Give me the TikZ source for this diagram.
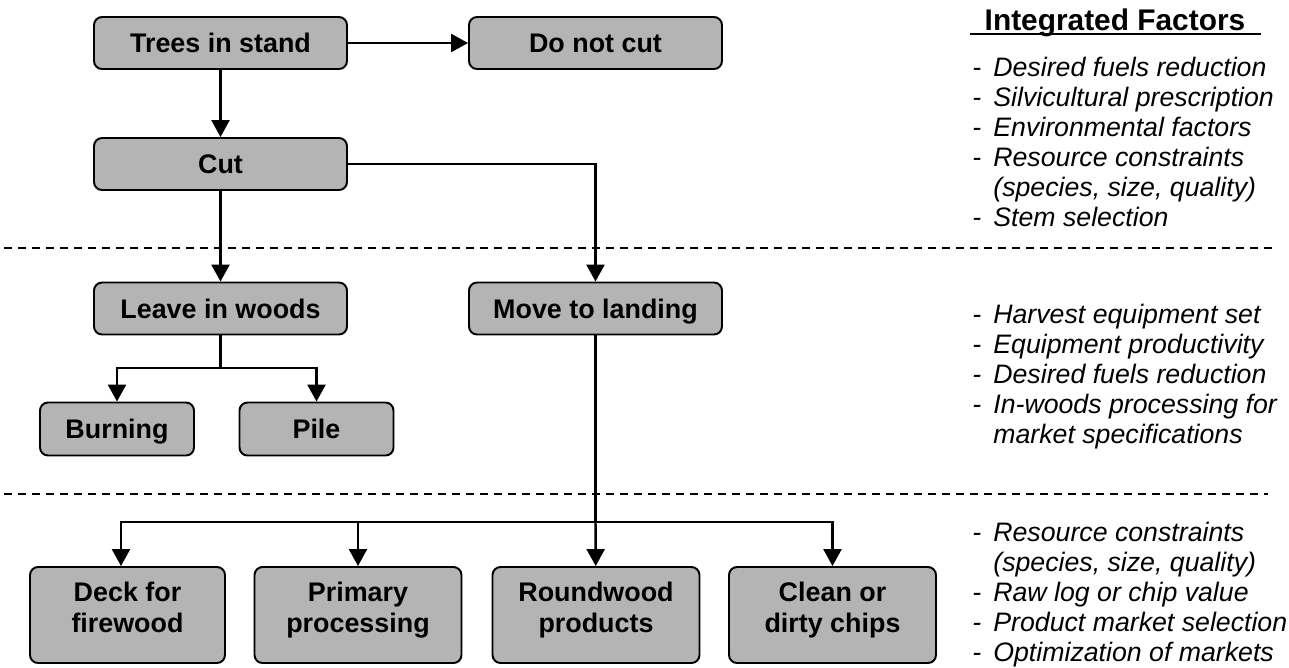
\documentclass[tikz,border=0pt]{standalone}
\usepackage{fontspec}
\setmainfont{Liberation Sans}
\usetikzlibrary{arrows.meta}
\definecolor{boxgray}{RGB}{180,180,180}
\newcommand{\dsh}{\makebox[0.42cm][l]{-}}

\begin{document}
\begin{tikzpicture}[x=0.02cm, y=-0.02cm,
  basebox/.style={draw, fill=boxgray, rounded corners=0.16cm, line width=1.1pt, inner sep=0pt,
    align=center, font=\bfseries\fontsize{15.3}{17.6}\selectfont},
  box/.style={basebox, minimum width=5.06cm, minimum height=1.04cm, text height=0.38cm, text depth=0pt},
  smallbox/.style={box, minimum width=3.08cm, minimum height=1.06cm},
  endbox/.style={basebox, minimum width=4.14cm, minimum height=1.92cm, text depth=0.3cm},
  arr/.style={line width=1.4pt, -{Triangle[length=0.34cm,width=0.36cm]}},
  sep/.style={line width=1.1pt, dash pattern=on 0.16cm off 0.12cm},
  fac/.style={anchor=base west, inner sep=0pt, font=\itshape\fontsize{15.2}{17}\selectfont}]
\useasboundingbox (0,0) rectangle (1289,667);

% decision boxes
\node [box] (tis) at (220.5,43) {Trees in stand};
\node [box] (dnc) at (595.5,43) {Do not cut};
\node [box] (cut) at (220.5,164) {Cut};
\node [box] (liw) at (220.5,308.5) {Leave in woods};
\node [box] (mtl) at (595.5,308.5) {Move to landing};
\node [smallbox] (brn) at (117,429) {Burning};
\node [smallbox] (pil) at (316.5,429) {Pile};
\node [endbox, minimum width=3.9cm] (dff) at (127.5,615) {Deck for\\firewood};
\node [endbox] (ppr) at (358,615) {Primary\\processing};
\node [endbox] (rwp) at (596,615) {Roundwood\\products};
\node [endbox] (cdc) at (832.5,615) {Clean or\\dirty chips};

% branch points
\coordinate (jl) at (220.5,368);
\coordinate (jm) at (595.5,522);

\draw [arr] (tis) -- (dnc);
\draw [arr] (tis) -- (cut);
\draw [arr] (cut) -- (liw);
\draw [arr] (cut.east) -| (mtl);
\draw [line width=1.4pt] (liw) -- (jl);
\draw [arr] (jl) -| (brn);
\draw [arr] (jl) -| (pil);
\draw [line width=1.4pt] (mtl) -- (jm);
\draw [arr] (jm) -| ([xshift=-0.13cm]dff.north);
\draw [arr] (jm) -| (ppr);
\draw [arr] (jm) -- (rwp);
\draw [arr] (jm) -| (cdc);

% stage separators
\draw [sep] (4,248) -- (1276,248);
\draw [sep] (4,494) -- (1268,494);

% integrated factors
\node [anchor=base, inner sep=0pt, font=\bfseries\fontsize{17}{20}\selectfont] (ttl) at (1115,30.5) {Integrated Factors};
\draw [line width=1.2pt] (970,34) -- (1261,34);

\node [fac] (f1) at (972,76) {\dsh Desired fuels reduction};
\node [fac] (f2) at (972,106) {\dsh Silvicultural prescription};
\node [fac] (f3) at (972,136) {\dsh Environmental factors};
\node [fac] (f4) at (972,166) {\dsh Resource constraints};
\node [fac] (f5) at (993,196) {(species, size, quality)};
\node [fac] (f6) at (972,226) {\dsh Stem selection};

\node [fac] (g1) at (972,323) {\dsh Harvest equipment set};
\node [fac] (g2) at (972,353) {\dsh Equipment productivity};
\node [fac] (g3) at (972,383) {\dsh Desired fuels reduction};
\node [fac] (g4) at (972,413) {\dsh In-woods processing for};
\node [fac] (g5) at (993,443) {market specifications};

\node [fac] (h1) at (972,541) {\dsh Resource constraints};
\node [fac] (h2) at (993,571) {(species, size, quality)};
\node [fac] (h3) at (972,601) {\dsh Raw log or chip value};
\node [fac] (h4) at (972,631) {\dsh Product market selection};
\node [fac] (h5) at (972,661) {\dsh Optimization of markets};
\end{tikzpicture}
\end{document}
